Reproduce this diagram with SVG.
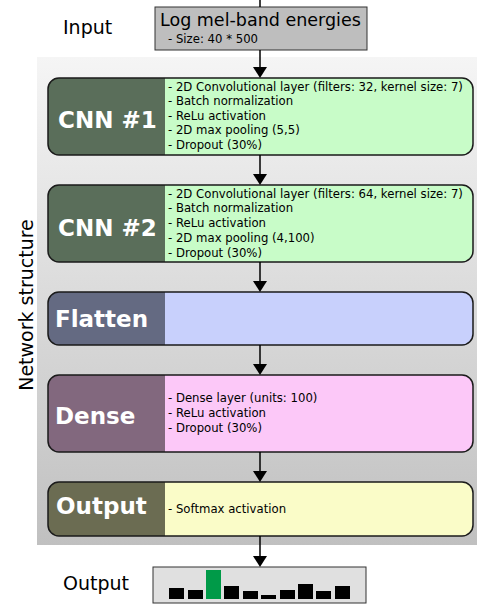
<svg xmlns="http://www.w3.org/2000/svg" width="477" height="605" viewBox="0 0 477 605">
<defs>
<linearGradient id="panel" x1="0" y1="0" x2="0" y2="1">
<stop offset="0" stop-color="#f5f5f5"/>
<stop offset="1" stop-color="#c0c0c0"/>
</linearGradient>
<clipPath id="c1"><rect x="48" y="78" width="425" height="77" rx="11"/></clipPath>
<clipPath id="c2"><rect x="48" y="185" width="425" height="77" rx="11"/></clipPath>
<clipPath id="c3"><rect x="48" y="292" width="425" height="53" rx="11"/></clipPath>
<clipPath id="c4"><rect x="48" y="375" width="425" height="77" rx="11"/></clipPath>
<clipPath id="c5"><rect x="48" y="482" width="425" height="54" rx="11"/></clipPath>
</defs>
<style>
.lbl{font-family:"DejaVu Sans",sans-serif;font-size:19px;fill:#000}
.big{font-family:"DejaVu Sans",sans-serif;font-weight:bold;font-size:23px;fill:#fff}
.det{font-family:"DejaVu Sans",sans-serif;font-size:11.7px;fill:#000}
.frame{fill:none;stroke:#1a1a1a;stroke-width:1.5}
.conn line{stroke:#000;stroke-width:1.5}
.conn polygon{fill:#000}
.bar{fill:#000}
</style>
<rect x="37" y="57" width="440" height="488" fill="url(#panel)"/>
<text class="lbl" x="63" y="34">Input</text>
<text class="lbl" transform="translate(33,305) rotate(-90)" text-anchor="middle" font-size="20">Network structure</text>
<text class="lbl" x="63" y="590">Output</text>
<g id="input">
<rect x="155" y="7" width="212" height="43" fill="#bebebe" stroke="#333" stroke-width="1"/>
<text x="160" y="26" font-family="DejaVu Sans, sans-serif" font-size="17.5">Log mel-band energies</text>
<text class="det" x="168" y="43" font-size="10.5">- Size: 40 * 500</text>
</g>
<g id="cnn1">
<g clip-path="url(#c1)"><rect x="48" y="78" width="425" height="77" fill="#c8fcc8"/><rect x="48" y="78" width="117" height="77" fill="#5a6e5a"/></g>
<rect class="frame" x="48" y="78" width="425" height="77" rx="11"/>
<text class="big" x="58" y="128">CNN #1</text>
<text class="det" x="168" y="90.5">- 2D Convolutional layer (filters: 32, kernel size: 7)</text>
<text class="det" x="168" y="105">- Batch normalization</text>
<text class="det" x="168" y="119.5">- ReLu activation</text>
<text class="det" x="168" y="134">- 2D max pooling (5,5)</text>
<text class="det" x="168" y="148.5">- Dropout (30%)</text>
</g>
<g id="cnn2">
<g clip-path="url(#c2)"><rect x="48" y="185" width="425" height="77" fill="#c8fcc8"/><rect x="48" y="185" width="117" height="77" fill="#5a6e5a"/></g>
<rect class="frame" x="48" y="185" width="425" height="77" rx="11"/>
<text class="big" x="58" y="236">CNN #2</text>
<text class="det" x="168" y="197.5">- 2D Convolutional layer (filters: 64, kernel size: 7)</text>
<text class="det" x="168" y="212">- Batch normalization</text>
<text class="det" x="168" y="227">- ReLu activation</text>
<text class="det" x="168" y="242">- 2D max pooling (4,100)</text>
<text class="det" x="168" y="257">- Dropout (30%)</text>
</g>
<g id="flatten">
<g clip-path="url(#c3)"><rect x="48" y="292" width="425" height="53" fill="#c8d0fc"/><rect x="48" y="292" width="117" height="53" fill="#646a82"/></g>
<rect class="frame" x="48" y="292" width="425" height="53" rx="11"/>
<text class="big" x="55" y="327">Flatten</text>
</g>
<g id="dense">
<g clip-path="url(#c4)"><rect x="48" y="375" width="425" height="77" fill="#fcc8f8"/><rect x="48" y="375" width="117" height="77" fill="#82687e"/></g>
<rect class="frame" x="48" y="375" width="425" height="77" rx="11"/>
<text class="big" x="55" y="424">Dense</text>
<text class="det" x="168" y="401.5">- Dense layer (units: 100)</text>
<text class="det" x="168" y="416.5">- ReLu activation</text>
<text class="det" x="168" y="431.5">- Dropout (30%)</text>
</g>
<g id="output">
<g clip-path="url(#c5)"><rect x="48" y="482" width="425" height="54" fill="#fafcc8"/><rect x="48" y="482" width="117" height="54" fill="#6b6c52"/></g>
<rect class="frame" x="48" y="482" width="425" height="54" rx="11"/>
<text class="big" x="56" y="514">Output</text>
<text class="det" x="168" y="513">- Softmax activation</text>
</g>
<g id="result">
<rect x="153" y="567" width="213" height="36" fill="#e0e0e0" stroke="#333" stroke-width="1"/>
<rect class="bar" x="169" y="588" width="15" height="11"/>
<rect class="bar" x="188" y="590" width="15" height="9"/>
<rect x="206" y="570" width="15" height="29" fill="#009a48"/>
<rect class="bar" x="224" y="586" width="15" height="13"/>
<rect class="bar" x="243" y="591" width="15" height="8"/>
<rect class="bar" x="261" y="595" width="15" height="4"/>
<rect class="bar" x="280" y="590" width="15" height="9"/>
<rect class="bar" x="298" y="584" width="15" height="15"/>
<rect class="bar" x="316" y="591" width="15" height="8"/>
<rect class="bar" x="335" y="586" width="15" height="13"/>
</g>
<g class="conn" id="connectors">
<line x1="260" y1="0" x2="260" y2="7"/>
<line x1="260" y1="50" x2="260" y2="68"/><polygon points="253,67 267,67 260,78"/>
<line x1="260" y1="155" x2="260" y2="175"/><polygon points="253,174 267,174 260,185"/>
<line x1="260" y1="262" x2="260" y2="282"/><polygon points="253,281 267,281 260,292"/>
<line x1="260" y1="345" x2="260" y2="365"/><polygon points="253,364 267,364 260,375"/>
<line x1="260" y1="452" x2="260" y2="472"/><polygon points="253,471 267,471 260,482"/>
<line x1="260" y1="536" x2="260" y2="557"/><polygon points="253,556 267,556 260,567"/>
</g>
</svg>
